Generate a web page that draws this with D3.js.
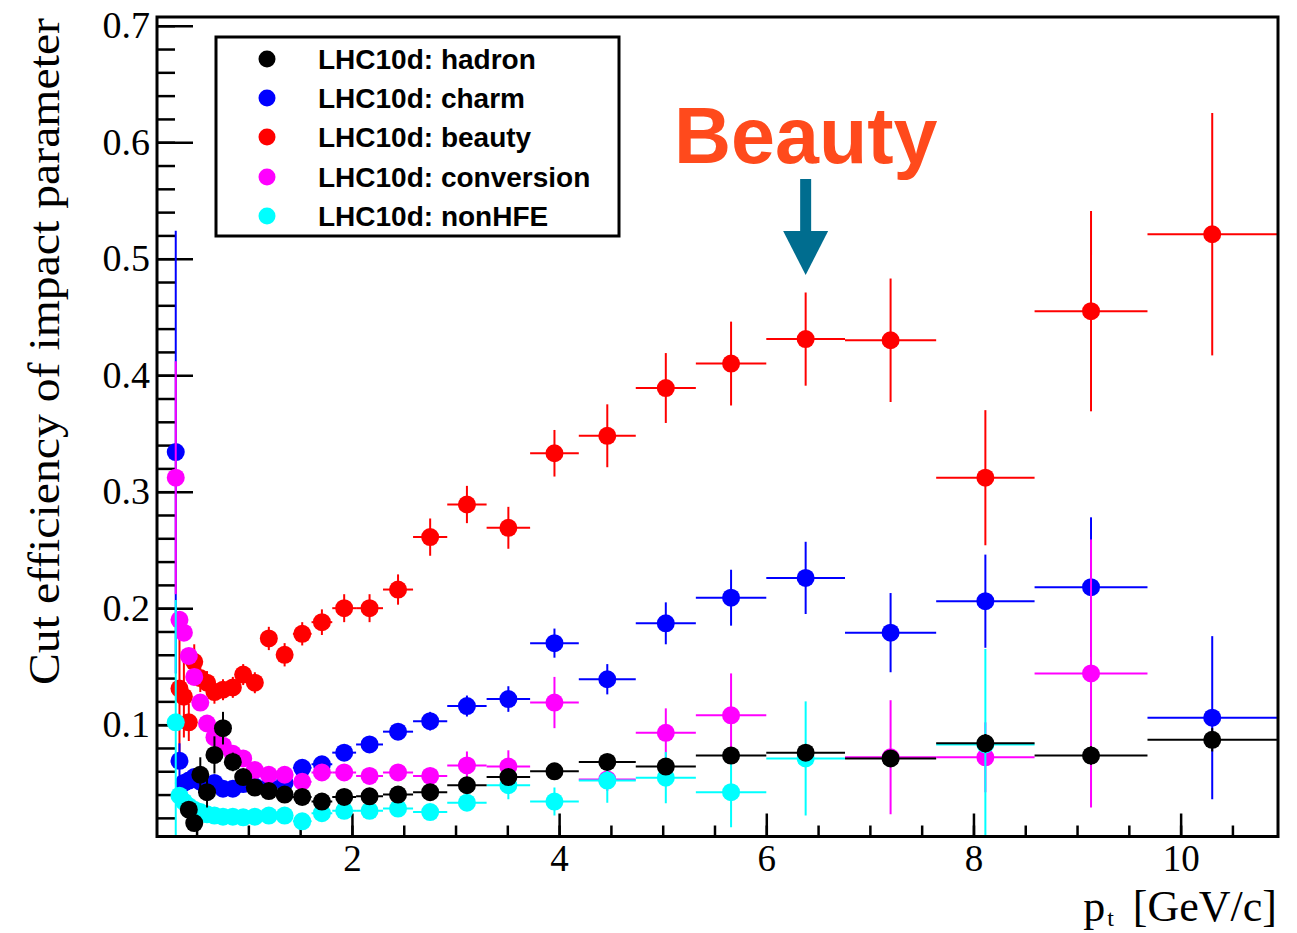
<!DOCTYPE html>
<html>
<head>
<meta charset="utf-8">
<script src="https://cdn.jsdelivr.net/npm/d3@7"></script>
<style>
body { margin: 0; background: #fff; }
svg { display: block; }
.axis path { display: none; }
.axis line { stroke: #000; stroke-width: 2.5; }
.axis text { font-family: 'Liberation Serif', 'Times New Roman', serif; font-size: 38px; fill: #000; }
.axis.x text { font-size: 37px; }
.axis-title { font-family: 'Liberation Serif', 'Times New Roman', serif; font-size: 44px; fill: #000; }
.legend text { font-family: 'Liberation Sans', Arial, sans-serif; font-weight: bold; font-size: 28px; fill: #000; }
.note { font-family: 'Liberation Sans', Arial, sans-serif; font-weight: bold; font-size: 79px; fill: #ff4a1c; }
</style>
</head>
<body>
<svg width="1297" height="933"></svg>
<script>
// pt bin edges (GeV/c), shared by all five graphs
const ptEdges = [0.283, 0.315, 0.355, 0.40, 0.45, 0.505, 0.567, 0.635, 0.71, 0.80, 0.90, 1.0,
    1.125, 1.27, 1.43, 1.61, 1.81, 2.04, 2.30, 2.59, 2.92, 3.30, 3.72, 4.19, 4.74, 5.32, 6.0,
    6.76, 7.64, 8.59, 9.68, 10.93]

const hadron = [null, null, null, 0.027, 0.0155, 0.057, 0.042, 0.074, 0.097, 0.068, 0.055, 0.046,
    0.043, 0.040, 0.038, 0.034, 0.038, 0.0385, 0.040, 0.042, 0.048, 0.055, 0.060, 0.068, 0.064,
    0.0735, 0.076, 0.071, 0.084, 0.0735, 0.087]
const hadronErr = [null, null, null, 0.006, 0.005, 0.015, 0.013, 0.016, 0.014, 0.008, 0.005, 0.004,
    0.004, 0.003, 0.003, 0.003, 0.003, 0.003, 0.003, 0.003, 0.003, 0.004, 0.004, 0.004, 0.005,
    0.005, 0.006, 0.006, 0.008, 0.008, 0.010]

const charm = [0.334, 0.069, 0.050, 0.052, 0.055, 0.051, 0.044, 0.050, 0.045, 0.045, 0.049, 0.047,
    0.047, 0.050, 0.063, 0.066, 0.076, 0.083, 0.094, 0.103, 0.116, 0.122, 0.170, 0.139, 0.187,
    0.209, 0.226, 0.179, 0.206, 0.218, 0.106]
const charmErr = [0.19, 0.015, 0.005, 0.004, 0.004, 0.004, 0.004, 0.004, 0.004, 0.004, 0.004, 0.004,
    0.004, 0.004, 0.005, 0.005, 0.006, 0.006, 0.007, 0.008, 0.009, 0.011, 0.0125, 0.013, 0.018,
    0.024, 0.031, 0.034, 0.040, 0.060, 0.070]

const beauty = [null, 0.131, 0.124, 0.102, 0.154, 0.140, 0.136, 0.128, 0.130, 0.132, 0.143, 0.136,
    0.174, 0.160, 0.178, 0.188, 0.200, 0.200, 0.216, 0.261, 0.289, 0.269, 0.333, 0.348, 0.389,
    0.410, 0.431, 0.430, 0.312, 0.455, 0.521]
const beautyErr = [null, 0.060, 0.035, 0.016, 0.015, 0.012, 0.010, 0.010, 0.009, 0.009, 0.009, 0.009,
    0.010, 0.010, 0.010, 0.011, 0.012, 0.012, 0.013, 0.016, 0.016, 0.018, 0.020, 0.027, 0.030,
    0.036, 0.040, 0.053, 0.058, 0.086, 0.104]

const conversion = [0.312, 0.190, 0.179, 0.159, 0.141, 0.119, 0.101, 0.089, 0.082, 0.075, 0.071, 0.061,
    0.057, 0.057, 0.051, 0.059, 0.059, 0.056, 0.059, 0.056, 0.065, 0.064, 0.119, 0.053, 0.093,
    0.108, null, 0.072, 0.072, 0.144, null]
const conversionErr = [0.10, 0.006, 0.005, 0.005, 0.005, 0.005, 0.005, 0.005, 0.005, 0.004, 0.004, 0.004,
    0.004, 0.004, 0.004, 0.005, 0.005, 0.005, 0.006, 0.007, 0.012, 0.014, 0.022, 0.010, 0.021,
    0.036, null, 0.049, 0.030, 0.115, null]

const nonHFE = [0.102, 0.039, 0.034, 0.030, 0.027, 0.025, 0.023, 0.022, 0.021, 0.021, 0.0205, 0.021,
    0.022, 0.022, 0.017, 0.024, 0.026, 0.026, 0.028, 0.025, 0.033, 0.048, 0.034, 0.052, 0.0545,
    0.042, 0.071, null, 0.083, null, null]
const nonHFEErr = [0.105, 0.004, 0.003, 0.003, 0.003, 0.003, 0.003, 0.003, 0.003, 0.003, 0.003, 0.003,
    0.003, 0.003, 0.003, 0.004, 0.004, 0.004, 0.005, 0.006, 0.007, 0.012, 0.012, 0.019, 0.022,
    0.030, 0.049, null, 0.082, null, null]

const legendLabels = ['LHC10d: hadron', 'LHC10d: charm', 'LHC10d: beauty', 'LHC10d: conversion', 'LHC10d: nonHFE']
const xTicks = [2, 4, 6, 8, 10]
const yTicks = [0.1, 0.2, 0.3, 0.4, 0.5, 0.6, 0.7]

const series =
    [ { name: legendLabels[0], values: hadron, errors: hadronErr, color: '#000000', order: 4 }
    , { name: legendLabels[1], values: charm, errors: charmErr, color: '#0000ff', order: 1 }
    , { name: legendLabels[2], values: beauty, errors: beautyErr, color: '#ff0000', order: 0 }
    , { name: legendLabels[3], values: conversion, errors: conversionErr, color: '#ff00ff', order: 2 }
    , { name: legendLabels[4], values: nonHFE, errors: nonHFEErr, color: '#00ffff', order: 3 }
    ]

const plotLeft = 157, plotRight = 1278, plotTop = 17, plotBottom = 836.5
    , markerR = 9
    , scaleX = d3.scaleLinear().domain([0.118, 10.94]).range([plotLeft, plotRight])
    , scaleY = d3.scaleLinear().domain([0.004, 0.7075]).range([plotBottom, plotTop])
    , svg = d3.select('svg')

svg.append('defs').append('clipPath').attr('id', 'frame-clip')
    .append('rect')
    .attr('x', plotLeft).attr('y', plotTop)
    .attr('width', plotRight - plotLeft).attr('height', plotBottom - plotTop)

// minor + major ticks, pointing into the frame
svg.append('g').attr('class', 'axis y')
    .attr('transform', `translate(${plotLeft},0)`)
    .call(d3.axisLeft(scaleY).tickValues(d3.range(1, 36).map(i => i * 0.02)).tickSize(-18).tickFormat(''))
svg.append('g').attr('class', 'axis y')
    .attr('transform', `translate(${plotLeft},0)`)
    .call(d3.axisLeft(scaleY).tickValues(yTicks).tickSize(-36).tickPadding(7).tickFormat(d3.format('.1f')))
svg.append('g').attr('class', 'axis x')
    .attr('transform', `translate(0,${plotBottom})`)
    .call(d3.axisBottom(scaleX).tickValues(d3.range(1, 22).map(i => i * 0.5)).tickSize(-11).tickFormat(''))
svg.append('g').attr('class', 'axis x')
    .attr('transform', `translate(0,${plotBottom})`)
    .call(d3.axisBottom(scaleX).tickValues(xTicks).tickSize(-23).tickPadding(8).tickFormat(d3.format('d')))

const drawSeries = s => {
    const pts = s.values
        .map((v, i) => ({ v, e: s.errors[i], lo: ptEdges[i], hi: ptEdges[i + 1], c: (ptEdges[i] + ptEdges[i + 1]) / 2 }))
        .filter(d => d.v != null)
    const g = svg.append('g').attr('clip-path', 'url(#frame-clip)')
    g.selectAll('line.ex').data(pts).join('line')
        .attr('class', 'ex')
        .attr('x1', d => scaleX(d.lo)).attr('x2', d => scaleX(d.hi))
        .attr('y1', d => scaleY(d.v)).attr('y2', d => scaleY(d.v))
        .attr('stroke', s.color).attr('stroke-width', 2)
    g.selectAll('line.ey').data(pts).join('line')
        .attr('class', 'ey')
        .attr('x1', d => scaleX(d.c)).attr('x2', d => scaleX(d.c))
        .attr('y1', d => scaleY(d.v - d.e)).attr('y2', d => scaleY(d.v + d.e))
        .attr('stroke', s.color).attr('stroke-width', 2)
    g.selectAll('circle').data(pts).join('circle')
        .attr('cx', d => scaleX(d.c)).attr('cy', d => scaleY(d.v))
        .attr('r', markerR).attr('fill', s.color)
}

series.slice().sort((a, b) => a.order - b.order).forEach(drawSeries)

// frame
svg.append('rect')
    .attr('x', plotLeft).attr('y', plotTop)
    .attr('width', plotRight - plotLeft).attr('height', plotBottom - plotTop)
    .attr('fill', 'none').attr('stroke', '#000').attr('stroke-width', 3)

// axis titles
svg.append('text')
    .attr('class', 'axis-title')
    .attr('text-anchor', 'end')
    .attr('transform', 'translate(59,18) rotate(-90)')
    .attr('textLength', 667).attr('lengthAdjust', 'spacingAndGlyphs')
    .text('Cut efficiency of impact parameter')
const xTitle = svg.append('text')
    .attr('class', 'axis-title')
    .attr('text-anchor', 'end')
    .attr('x', 1277).attr('y', 921)
xTitle.append('tspan').text('p')
xTitle.append('tspan').attr('font-size', '24px').attr('dx', '2').attr('dy', '5').text('t')
xTitle.append('tspan').attr('dy', '-5').attr('dx', '8').text('\u00a0[GeV/c]')

// legend
const legend = svg.append('g').attr('class', 'legend')
legend.append('rect')
    .attr('x', 216).attr('y', 37).attr('width', 403).attr('height', 199)
    .attr('fill', '#fff').attr('stroke', '#000').attr('stroke-width', 3)
const rowY = [59, 98, 137, 177, 216]
series.forEach((s, i) => {
    legend.append('circle').attr('cx', 267).attr('cy', rowY[i]).attr('r', 8.5).attr('fill', s.color)
    legend.append('text').attr('x', 318).attr('y', rowY[i] + 9.5).text(s.name)
})

// "Beauty" annotation pointing at the 6-6.76 GeV/c bin
const arrowX = scaleX((ptEdges[26] + ptEdges[27]) / 2)
svg.append('text').attr('class', 'note').attr('x', 674).attr('y', 163).text('Beauty')
svg.append('rect')
    .attr('x', arrowX - 5.5).attr('y', 179).attr('width', 11).attr('height', 53)
    .attr('fill', '#006d8f')
svg.append('path')
    .attr('d', `M${arrowX - 22.5},231 L${arrowX + 22.5},231 L${arrowX},275 Z`)
    .attr('fill', '#006d8f')
</script>
</body>
</html>
